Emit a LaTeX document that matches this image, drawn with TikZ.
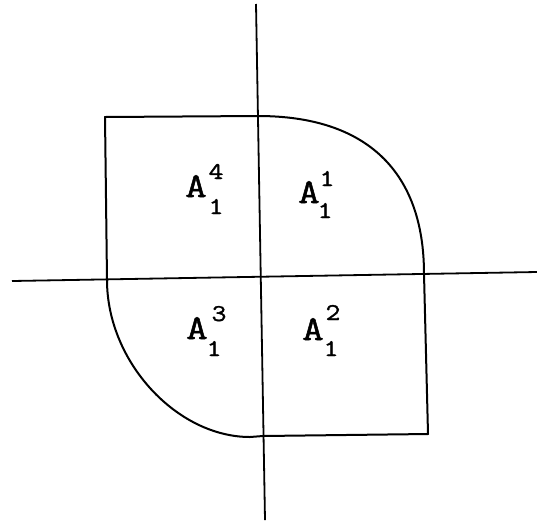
\documentclass[tikz,border=0pt]{standalone}
\usepackage{fontspec}
\newfontfamily\lblfont{Latin Modern Mono}[FakeStretch=1.2,FakeBold=1.5]
\begin{document}
\begin{tikzpicture}[x=1pt,y=-1pt,
  axis/.style={line width=1.8pt},
  outline/.style={line width=2pt, line join=round},
  bigA/.style={font=\lblfont\fontsize{35}{35}\selectfont, inner sep=0pt, anchor=base},
  idx/.style={font=\lblfont\fontsize{24}{24}\selectfont, inner sep=0pt, anchor=base}]
\useasboundingbox (0,0) rectangle (537,520);
% axes
\coordinate (xl) at (12,281);
\coordinate (xr) at (537,272);
\coordinate (yt) at (256,4);
\coordinate (yb) at (265,520);
\draw[axis] (xl) -- (xr);
\draw[axis] (yt) -- (yb);
% outline
\coordinate (tl) at (105,117);
\coordinate (tm) at (258,116);
\coordinate (rm) at (424,274);
\coordinate (br) at (428,434);
\coordinate (bm) at (263,436);
\coordinate (bc) at (250,437);
\coordinate (lm) at (107,280);
\draw[outline] (lm) -- (tl) -- (tm)
  .. controls (366,116) and (424,171) .. (rm)
  -- (br) -- (bm) -- (bc)
  .. controls (177,437) and (107,362) .. (lm);
% labels
\node[bigA] (a4) at (196,197) {A};
\node[idx] (a4s) at (216,179) {4};
\node[idx] (a4b) at (216,214) {1};
\node[bigA] (a1) at (309,203) {A};
\node[idx] (a1s) at (327,186) {1};
\node[idx] (a1b) at (325,218) {1};
\node[bigA] (a3) at (197,339) {A};
\node[idx] (a3s) at (219,321) {3};
\node[idx] (a3b) at (214,356) {1};
\node[bigA] (a2) at (313,340) {A};
\node[idx] (a2s) at (333,320) {2};
\node[idx] (a2b) at (331,356) {1};
\end{tikzpicture}
\end{document}
